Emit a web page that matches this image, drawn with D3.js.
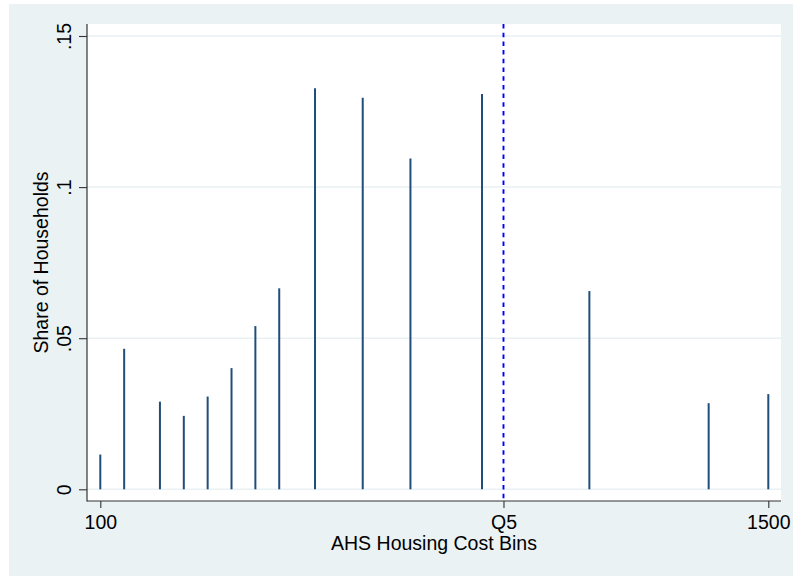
<!DOCTYPE html>
<html>
<head>
<meta charset="utf-8">
<script src="https://cdn.jsdelivr.net/npm/d3@7"></script>
<style>
  html, body { margin: 0; padding: 0; background: #ffffff; }
  svg { display: block; }
  text { font-family: "Liberation Sans", Arial, sans-serif; fill: #000; }
</style>
</head>
<body>
<svg id="chart" width="793" height="577"></svg>
<script>
// ---- data ----
const binValues = [100, 150, 225, 275, 325, 375, 425, 475, 550, 650, 750, 900, 1125, 1375, 1500];
const shareValues = [0.0115, 0.0465, 0.0290, 0.0243, 0.0307, 0.0401, 0.0540, 0.0665, 0.1327, 0.1296, 0.1095, 0.1308, 0.0656, 0.0285, 0.0315];
const xTickValues = [100, 945, 1500];
const xTickLabels = ["100", "Q5", "1500"];
const yTickValues = [0, 0.05, 0.10, 0.15];
const yTickLabels = ["0", ".05", ".1", ".15"];
const refLineValue = 945;
const xTitle = "AHS Housing Cost Bins";
const yTitle = "Share of Households";

// ---- layout ----
const svg = d3.select("#chart");
const plot = { left: 87, right: 781, top: 24, bottom: 501 };

const x = d3.scaleLinear().domain([100, 1500]).range([100.3, 768.3]);
const y = d3.scaleLinear().domain([0, 0.15]).range([489.3, 36]);

// outer background
svg.append("rect").attr("x", 9).attr("y", 4).attr("width", 793 - 9).attr("height", 576 - 4)
  .attr("fill", "#eaf2f3");
// plot region
svg.append("rect").attr("x", plot.left).attr("y", plot.top)
  .attr("width", plot.right - plot.left).attr("height", plot.bottom - plot.top)
  .attr("fill", "#ffffff");

// gridlines
svg.append("g").selectAll("line").data(yTickValues).join("line")
  .attr("x1", plot.left).attr("x2", plot.right)
  .attr("y1", d => y(d)).attr("y2", d => y(d))
  .attr("stroke", "#e9f1f3").attr("stroke-width", 1.5);

// spikes
svg.append("g").selectAll("line").data(binValues).join("line")
  .attr("x1", d => x(d)).attr("x2", d => x(d))
  .attr("y1", y(0)).attr("y2", (d, i) => y(shareValues[i]))
  .attr("stroke", "#1f4e7a").attr("stroke-width", 2);

// reference line
svg.append("line")
  .attr("x1", x(refLineValue)).attr("x2", x(refLineValue))
  .attr("y1", plot.top).attr("y2", plot.bottom)
  .attr("stroke", "#0000ff").attr("stroke-width", 1.9)
  .attr("stroke-dasharray", "4.5,4.2");

// y axis
const yAxis = d3.axisLeft(y).tickValues(yTickValues)
  .tickFormat((d, i) => yTickLabels[i]).tickSize(8).tickSizeOuter(0);
const gy = svg.append("g").attr("transform", `translate(${plot.left},0)`).call(yAxis);
gy.select(".domain").remove();
gy.selectAll(".tick line").attr("stroke", "#333").attr("stroke-width", 1.1);
gy.selectAll(".tick text")
  .attr("transform", "rotate(-90)")
  .attr("x", 0).attr("y", -16).attr("dy", 0)
  .attr("text-anchor", "middle")
  .style("font-size", "19.5px").style("font-family", "Liberation Sans, Arial, sans-serif")
  .attr("fill", "#000");
svg.append("line").attr("x1", plot.left).attr("x2", plot.left)
  .attr("y1", plot.top).attr("y2", plot.bottom + 0.5)
  .attr("stroke", "#333").attr("stroke-width", 1.2);

// x axis
const xAxis = d3.axisBottom(x).tickValues(xTickValues)
  .tickFormat((d, i) => xTickLabels[i]).tickSize(7).tickSizeOuter(0);
const gx = svg.append("g").attr("transform", `translate(0,${plot.bottom})`).call(xAxis);
gx.select(".domain").remove();
gx.selectAll(".tick line").attr("stroke", "#333").attr("stroke-width", 1.1);
gx.selectAll(".tick text")
  .attr("y", 27.5).attr("dy", 0)
  .style("font-size", "19.5px").style("font-family", "Liberation Sans, Arial, sans-serif")
  .attr("fill", "#000");
svg.append("line").attr("x1", plot.left).attr("x2", plot.right)
  .attr("y1", plot.bottom).attr("y2", plot.bottom)
  .attr("stroke", "#333").attr("stroke-width", 1.2);

// titles
svg.append("text")
  .attr("x", (plot.left + plot.right) / 2).attr("y", 550)
  .attr("text-anchor", "middle").style("font-size", "19.5px")
  .text(xTitle);
svg.append("text")
  .attr("transform", `translate(47.5,${(plot.top + plot.bottom) / 2}) rotate(-90)`)
  .attr("text-anchor", "middle").style("font-size", "19.5px")
  .text(yTitle);
</script>
</body>
</html>
